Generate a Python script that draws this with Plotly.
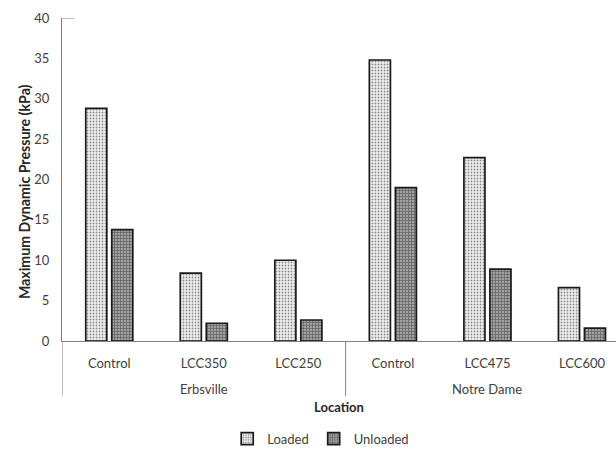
import plotly.graph_objects as go

locations = ["Erbsville", "Erbsville", "Erbsville", "Notre Dame", "Notre Dame", "Notre Dame"]
treatments = ["Control", "LCC350", "LCC250", "Control", "LCC475", "LCC600"]
loaded = [28.8, 8.4, 10.0, 34.8, 22.7, 6.6]
unloaded = [13.8, 2.2, 2.6, 19.0, 8.9, 1.6]

FONT = "Lato, 'Open Sans', sans-serif"
AXIS_COLOR = "#7f7f7f"
TXT = "#404040"

idx = list(range(len(treatments)))

fig = go.Figure()
fig.add_trace(go.Bar(
    name="Loaded", x=idx, y=loaded,
    marker=dict(color="white", line=dict(color="#1a1a1a", width=1.7),
                pattern=dict(shape=".", fgcolor="#8a8a8a", bgcolor="#f2f2f2",
                             size=3, solidity=0.3, fillmode="replace")),
))
fig.add_trace(go.Bar(
    name="Unloaded", x=idx, y=unloaded,
    marker=dict(color="#8c8c8c", line=dict(color="#1a1a1a", width=1.7),
                pattern=dict(shape="+", fgcolor="#5e5e5e", bgcolor="#a2a2a2",
                             size=3, solidity=0.4, fillmode="replace")),
))

fig.update_layout(
    width=616, height=450,
    margin=dict(l=62, r=0, t=18, b=109, autoexpand=False),
    paper_bgcolor="white", plot_bgcolor="white",
    font=dict(family=FONT, size=13, color=TXT),
    barmode="group", bargap=0.45, bargroupgap=0.19,
    showlegend=True,
    legend=dict(orientation="h", x=0.467, xanchor="center",
                yref="container", y=0.025, yanchor="middle",
                font=dict(size=13, color=TXT), itemwidth=30),
    xaxis=dict(
        range=[-0.5, 5.36], automargin=False,
        tickmode="array", tickvals=idx, ticktext=treatments,
        showline=True, linecolor=AXIS_COLOR, linewidth=1,
        showgrid=False, zeroline=False,
        ticks="outside", ticklen=10, tickcolor="rgba(0,0,0,0)",
        tickfont=dict(size=13, color=TXT),
        title=dict(text="<b>Location</b>", font=dict(size=13, color="#262626"), standoff=33),
    ),
    yaxis=dict(
        range=[0, 40], dtick=5, automargin=False,
        showline=True, linecolor=AXIS_COLOR, linewidth=1,
        showgrid=False, zeroline=False,
        ticks="outside", ticklen=9, tickcolor="rgba(0,0,0,0)",
        tickfont=dict(size=13, color=TXT),
    ),
)

fig.add_annotation(text="<b>Maximum Dynamic Pressure (kPa)</b>", textangle=-90,
                   xref="paper", x=-0.0686, xanchor="center",
                   yref="paper", y=0.464, yanchor="middle", showarrow=False,
                   font=dict(size=14.2, color="#262626"))

# group labels and dividers of the two-level category axis
groups = []
for i, loc in enumerate(locations):
    if not groups or groups[-1][0] != loc:
        groups.append([loc, i, i])
    else:
        groups[-1][2] = i
for loc, start, end in groups:
    fig.add_annotation(text=loc, x=(start + end) / 2, xref="x", y=-0.149, yref="paper",
                       yanchor="middle", showarrow=False, font=dict(size=13, color=TXT))
    fig.add_shape(type="line", xref="x", yref="paper", x0=start - 0.5, x1=start - 0.5,
                  y0=0, y1=-0.17, line=dict(color=AXIS_COLOR, width=1))

fig.add_shape(type="line", xref="paper", yref="y", x0=0, x1=0.022, y0=40, y1=40,
              line=dict(color=AXIS_COLOR, width=1))

fig.write_html("out.html", config={"displayModeBar": False},
               post_script="document.body.style.margin='0';")
